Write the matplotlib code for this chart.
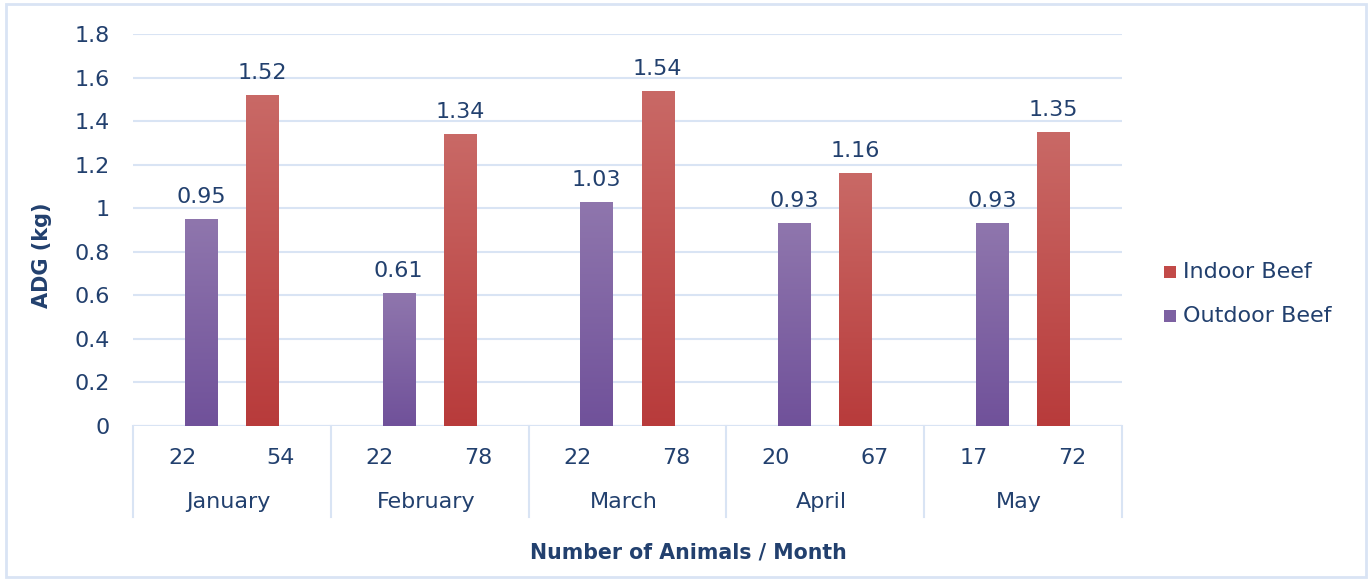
import numpy as np
import matplotlib
matplotlib.use("Agg")
import matplotlib.pyplot as plt
from matplotlib.patches import Rectangle
from matplotlib.colors import LinearSegmentedColormap
import matplotlib.transforms as mtransforms

months = ["January", "February", "March", "April", "May"]
outdoor_n = ["22", "22", "22", "20", "17"]
indoor_n = ["54", "78", "78", "67", "72"]
outdoor_adg = [0.95, 0.61, 1.03, 0.93, 0.93]
indoor_adg = [1.52, 1.34, 1.54, 1.16, 1.35]
yticks = [0, 0.2, 0.4, 0.6, 0.8, 1, 1.2, 1.4, 1.6, 1.8]
ytick_labels = ["0", "0.2", "0.4", "0.6", "0.8", "1", "1.2", "1.4", "1.6", "1.8"]

TXT = "#22406e"
GRID = "#d9e4f4"
FS = 16
plt.rcParams['font.family'] = ['DejaVu Sans']

W, H = 1372, 581
fig = plt.figure(figsize=(W/100, H/100), dpi=100)
ax = fig.add_axes([133/W, (H-426)/H, (1122-133)/W, (426-34)/H])
ax.set_xlim(0, 5)
ax.set_ylim(0, 1.8)
for s in ax.spines.values():
    s.set_visible(False)
ax.set_yticks(yticks)
ax.set_yticklabels(ytick_labels, fontsize=FS, color=TXT)
ax.tick_params(axis='y', length=0, pad=17)
ax.set_xticks([])
ax.grid(axis='y', color=GRID, linewidth=1.5)
ax.set_axisbelow(True)
ax.axhline(0, color=GRID, linewidth=1.5, zorder=1)

cm_out = LinearSegmentedColormap.from_list("o", ["#70519a", "#8f76ad"])
cm_in = LinearSegmentedColormap.from_list("i", ["#b83b3b", "#c96966"])
grad = np.linspace(0, 1, 256).reshape(-1, 1)

bw = 0.162
off_out, off_in = 0.343, 0.652

def gbar(x, h, cmap):
    r = Rectangle((x - bw/2, 0), bw, h, facecolor='none', edgecolor='none')
    ax.add_patch(r)
    im = ax.imshow(grad, extent=[x - bw/2, x + bw/2, 0, h], origin='lower',
                   cmap=cmap, aspect='auto', zorder=2)
    im.set_clip_path(r)

for i in range(5):
    xo = i + off_out
    xi = i + off_in
    gbar(xo, outdoor_adg[i], cm_out)
    gbar(xi, indoor_adg[i], cm_in)
    ax.text(xo, outdoor_adg[i] + 0.055, f"{outdoor_adg[i]:.2f}", ha='center', va='bottom', fontsize=FS, color=TXT)
    ax.text(xi, indoor_adg[i] + 0.055, f"{indoor_adg[i]:.2f}", ha='center', va='bottom', fontsize=FS, color=TXT)

ax.set_aspect('auto')
ax.set_xlim(0, 5)
ax.set_ylim(0, 1.8)

trans = mtransforms.blended_transform_factory(ax.transData, fig.transFigure)
for i in range(6):
    ax.plot([i, i], [(H-426)/H, (H-517)/H], transform=trans, color=GRID, lw=1.5, clip_on=False)
for i in range(5):
    ax.text(i + off_out - 0.095, (H-458)/H, outdoor_n[i], transform=trans, ha='center', va='center', fontsize=FS, color=TXT)
    ax.text(i + off_in + 0.095, (H-458)/H, indoor_n[i], transform=trans, ha='center', va='center', fontsize=FS, color=TXT)
    ax.text(i + 0.48, (H-502)/H, months[i], transform=trans, ha='center', va='center', fontsize=FS, color=TXT)

fig.text(688/W, (H-552)/H, "Number of Animals / Month", ha='center', va='center', fontsize=14.8, fontweight='bold', color=TXT)
fig.text(42/W, (H-255)/H, "ADG (kg)", ha='center', va='center', rotation=90, fontsize=15, fontweight='bold', color=TXT)

# legend
for y, lab, c in [(272, "Indoor Beef", "#c24a48"), (316, "Outdoor Beef", "#7d61a2")]:
    fig.patches.append(Rectangle((1164/W, (H-y-6)/H), 12/W, 12/H, transform=fig.transFigure, facecolor=c, edgecolor='none'))
    fig.text(1183/W, (H-y)/H, lab, ha='left', va='center', fontsize=FS, color=TXT)

fig.patches.append(Rectangle((6/W, 4/H), (1366-6)/W, (577-4)/H, transform=fig.transFigure,
                             facecolor='none', edgecolor=GRID, lw=2))

fig.savefig("out.png", dpi=100)
